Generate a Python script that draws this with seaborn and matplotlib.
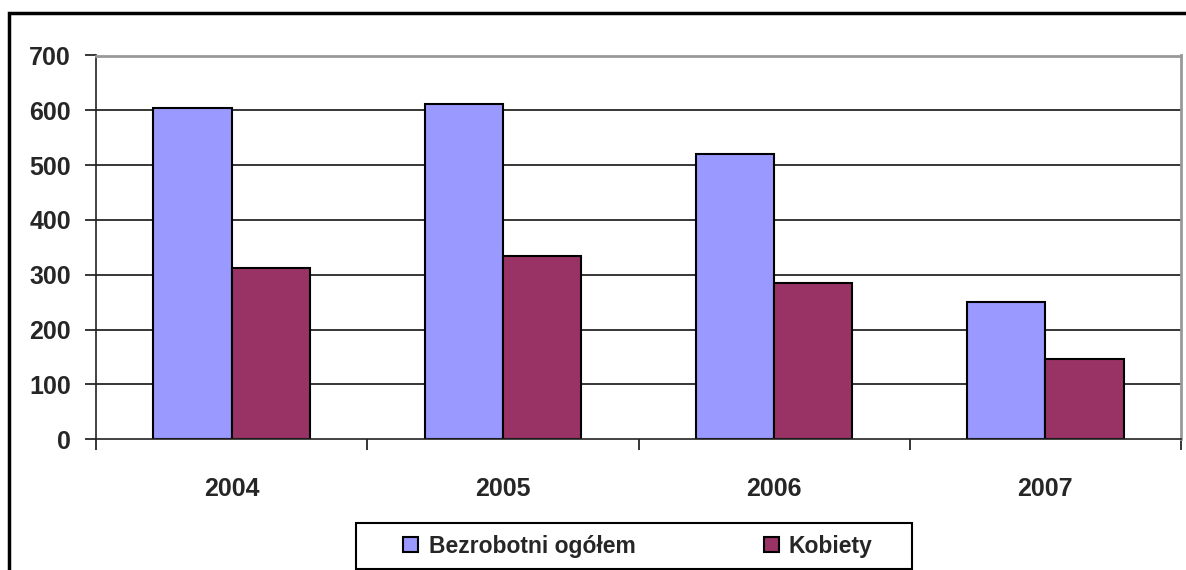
import matplotlib
matplotlib.use('Agg')
import matplotlib.pyplot as plt
import matplotlib.patches as mpatches
import seaborn as sns
import pandas as pd
import numpy as np

# data
years = ['2004', '2005', '2006', '2007']
ogolem = [605, 612, 521, 251]
kobiety = [313, 335, 285, 146]
series = ['Bezrobotni ogółem', 'Kobiety']
colors = ['#9999FF', '#993366']

df = pd.DataFrame({
    'rok': years * 2,
    'wartosc': ogolem + kobiety,
    'seria': [series[0]] * 4 + [series[1]] * 4,
})

sns.set_style('white')
plt.rcParams['font.family'] = ['Liberation Sans', 'DejaVu Sans']
plt.rcParams['font.weight'] = 'bold'

fig = plt.figure(figsize=(11.86, 5.70), dpi=100)
ax = fig.add_axes([96 / 1186, 1 - 439.3 / 570, (1181 - 96) / 1186, (439.3 - 55.5) / 570])

sns.barplot(data=df, x='rok', y='wartosc', hue='seria', palette=colors,
            width=0.577, edgecolor='black', linewidth=1.5, ax=ax, legend=False,
            saturation=1)

ax.set_ylim(0, 700)
ax.set_xlim(-0.5, 3.5)
ax.set_yticks(np.arange(0, 701, 100))
ax.set_xlabel('')
ax.set_ylabel('')

# gridlines
for v in range(100, 700, 100):
    ax.axhline(v, color='black', lw=1.1, zorder=0)

for s in ['top', 'right']:
    ax.spines[s].set_color('#999999')
    ax.spines[s].set_linewidth(2)
for s in ['left', 'bottom']:
    ax.spines[s].set_color('#222222')
    ax.spines[s].set_linewidth(1.2)

ax.tick_params(axis='y', left=True, length=8, width=1.1, color='black', pad=10, labelsize=18)
ax.tick_params(axis='x', which='major', length=0, pad=27, labelsize=18)
ax.set_xticks([-0.5, 0.5, 1.5, 2.5, 3.5], minor=True)
ax.tick_params(axis='x', which='minor', bottom=True, length=8, width=1.1, color='black')
for lab in ax.get_xticklabels() + ax.get_yticklabels():
    lab.set_fontweight('bold')

# outer chart frame (cropped at right/bottom)
fig.patches.append(mpatches.Rectangle((9 / 1186, -0.1), 1.2, 1 - 13 / 570 + 0.1,
                                      transform=fig.transFigure, fill=False,
                                      edgecolor='black', lw=2.5))

# legend box
fig.patches.append(mpatches.Rectangle((356 / 1186, 1 / 570), (912 - 356) / 1186, (569 - 523) / 570,
                                      transform=fig.transFigure, fill=False,
                                      edgecolor='black', lw=1.5))
handles = [mpatches.Patch(facecolor=c, edgecolor='black', lw=1.5) for c in colors]
fig.legend(handles, series, loc='center', bbox_to_anchor=(638 / 1186, 1 - 546 / 570),
           ncol=2, frameon=False, handlelength=0.65, handleheight=0.65,
           handletextpad=0.45, columnspacing=5.6, prop={'size': 16.5, 'weight': 'bold'})

fig.savefig('out.png', dpi=100)
